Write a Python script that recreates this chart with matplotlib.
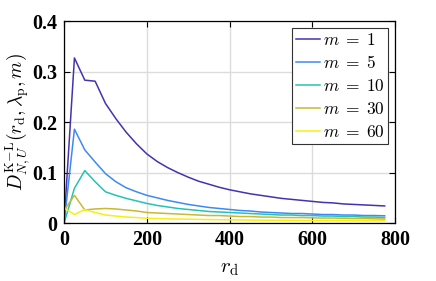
import matplotlib
matplotlib.use("Agg")
import matplotlib.pyplot as plt

plt.rcParams['mathtext.fontset'] = 'cm'

# r_d grid
r_d = [0, 25, 50, 75, 100, 125, 150, 175, 200, 225, 250, 275, 300, 325, 350, 375,
       400, 425, 450, 475, 500, 525, 550, 575, 600, 625, 650, 675, 700, 725, 750, 775]

# D^{K-L} values, one list per m
d_m1 = [0, 0.327, 0.283, 0.281, 0.237, 0.207, 0.180, 0.157, 0.137, 0.122, 0.110, 0.100,
        0.091, 0.083, 0.077, 0.071, 0.066, 0.062, 0.058, 0.055, 0.052, 0.049, 0.047, 0.045,
        0.043, 0.041, 0.040, 0.038, 0.037, 0.036, 0.035, 0.034]
d_m5 = [0, 0.186, 0.145, 0.121, 0.098, 0.082, 0.070, 0.062, 0.055, 0.050, 0.045, 0.041,
        0.037, 0.034, 0.031, 0.029, 0.027, 0.025, 0.024, 0.022, 0.021, 0.020, 0.019, 0.019,
        0.018, 0.017, 0.017, 0.016, 0.016, 0.015, 0.015, 0.0145]
d_m10 = [0, 0.069, 0.104, 0.082, 0.062, 0.055, 0.049, 0.044, 0.039, 0.035, 0.032, 0.029,
         0.027, 0.025, 0.023, 0.022, 0.021, 0.020, 0.019, 0.018, 0.017, 0.016, 0.016, 0.015,
         0.015, 0.014, 0.014, 0.013, 0.013, 0.012, 0.012, 0.011]
d_m30 = [0.025, 0.055, 0.026, 0.028, 0.029, 0.028, 0.026, 0.024, 0.021, 0.020, 0.019, 0.018,
         0.017, 0.016, 0.015, 0.015, 0.014, 0.013, 0.013, 0.012, 0.012, 0.011, 0.011, 0.011,
         0.0105, 0.010, 0.010, 0.0095, 0.009, 0.009, 0.0085, 0.008]
d_m60 = [0.030, 0.017, 0.027, 0.021, 0.016, 0.014, 0.012, 0.011, 0.0095, 0.009, 0.0085, 0.008,
         0.0078, 0.0074, 0.007, 0.0068, 0.0065, 0.0063, 0.006, 0.0058, 0.0056, 0.0055, 0.0054,
         0.0053, 0.0052, 0.0051, 0.005, 0.0049, 0.0048, 0.0047, 0.0046, 0.0046]

labels = ['$m\\;=\\;1$', '$m\\;=\\;5$', '$m\\;=\\;10$', '$m\\;=\\;30$', '$m\\;=\\;60$']
colores = ['#4433b0', '#3d8af3', '#25c2b6', '#c9b832', '#f7ef12']
series = [d_m1, d_m5, d_m10, d_m30, d_m60]

x_ticks = [0, 200, 400, 600, 800]
y_ticks = [0, 0.1, 0.2, 0.3, 0.4]
y_ticklabels = ['0', '0.1', '0.2', '0.3', '0.4']

fig = plt.figure(figsize=(4.36, 2.81), dpi=100)
ax = fig.add_axes([0.147, 0.206, 0.759, 0.719])

for d, lab, c in zip(series, labels, colores):
    ax.plot(r_d, d, color=c, lw=1.1, label=lab)

ax.set_xlim(0, 800)
ax.set_ylim(0, 0.4)
ax.set_xticks(x_ticks)
ax.set_yticks(y_ticks)
ax.set_xticklabels([str(t) for t in x_ticks])
ax.set_yticklabels(y_ticklabels)
for t in ax.get_xticklabels() + ax.get_yticklabels():
    t.set_family('Liberation Serif')
    t.set_fontweight('bold')
    t.set_fontsize(14.5)

ax.tick_params(direction='in', length=4, width=0.8, top=True, right=True, pad=5)
ax.grid(True, color='#dcdcdc', lw=1.0)
ax.set_axisbelow(True)
for s in ax.spines.values():
    s.set_linewidth(0.9)

ax.set_xlabel('$r_\\mathrm{d}$', fontsize=15, labelpad=6)
ax.set_ylabel('$D^{\\mathrm{K\\!-\\!L}}_{N,U}(r_\\mathrm{d},\\lambda_\\mathrm{p},m)$', fontsize=14, labelpad=0)

leg = ax.legend(loc='upper right', fontsize=12.5, fancybox=False, framealpha=1,
                edgecolor='#333333', handlelength=1.4, handletextpad=0.15,
                labelspacing=0.28, borderpad=0.2, borderaxespad=0.4)
leg.get_frame().set_linewidth(0.8)

fig.savefig('out.png', dpi=100)
